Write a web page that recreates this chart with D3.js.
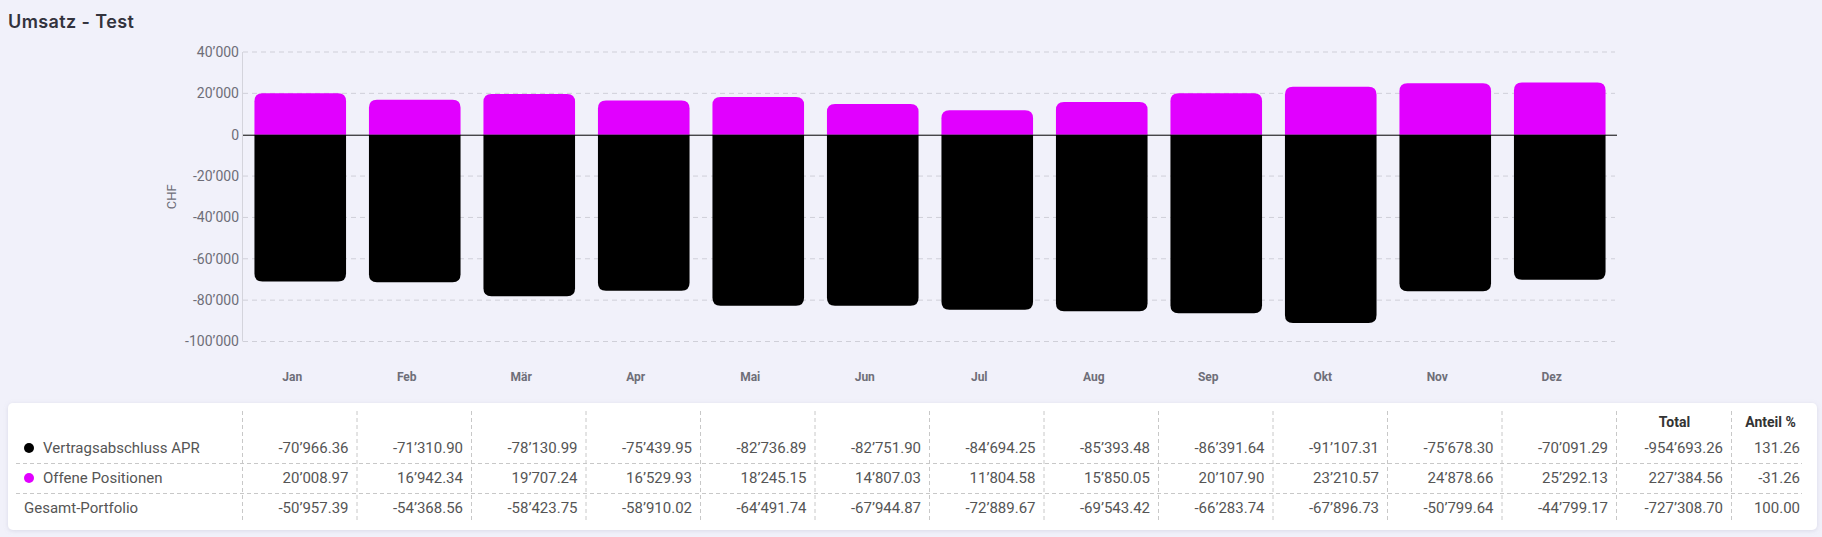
<!DOCTYPE html>
<html>
<head>
<meta charset="utf-8">
<script src="https://cdn.jsdelivr.net/npm/d3@7"></script>
<style>
  body { margin: 0; background: #f1f1fa; }
  svg { display: block; font-family: Roboto, "Noto Sans", sans-serif; }
</style>
</head>
<body>
<div id="chart"></div>
<script>
"use strict";

// data
const months = ["Jan", "Feb", "Mär", "Apr", "Mai", "Jun", "Jul", "Aug", "Sep", "Okt", "Nov", "Dez"];
const vertrag = [-70966.36, -71310.90, -78130.99, -75439.95, -82736.89, -82751.90,
                 -84694.25, -85393.48, -86391.64, -91107.31, -75678.30, -70091.29];
const offene = [20008.97, 16942.34, 19707.24, 16529.93, 18245.15, 14807.03,
                11804.58, 15850.05, 20107.90, 23210.57, 24878.66, 25292.13];
const gesamt = [-50957.39, -54368.56, -58423.75, -58910.02, -64491.74, -67944.87,
                -72889.67, -69543.42, -66283.74, -67896.73, -50799.64, -44799.17];
const totals = [-954693.26, 227384.56, -727308.70];
const anteil = [131.26, -31.26, 100.00];
const yTicks = [40000, 20000, 0, -20000, -40000, -60000, -80000, -100000];
const seriesNames = ["Vertragsabschluss APR", "Offene Positionen", "Gesamt-Portfolio"];
const seriesColors = ["#000000", "#e100ff", null];

const W = 1822, H = 537;

const loc = d3.formatLocale({ decimal: ".", thousands: "\u2019", grouping: [3], currency: ["", ""], minus: "-" });
const fmtTick = loc.format(",d");
const fmtVal = loc.format(",.2f");

const rows = [vertrag, offene, gesamt];

const svg = d3.select("#chart").append("svg")
  .attr("width", W)
  .attr("height", H);

const defs = svg.append("defs");
const shadow = defs.append("filter").attr("id", "shadow")
  .attr("x", "-2%").attr("y", "-10%").attr("width", "104%").attr("height", "130%");
shadow.append("feDropShadow")
  .attr("dx", 0).attr("dy", 1).attr("stdDeviation", 2)
  .attr("flood-color", "#9090b0").attr("flood-opacity", 0.25);

// title
svg.append("text")
  .attr("x", 8).attr("y", 28)
  .attr("font-family", "Inter, 'Open Sans', sans-serif")
  .attr("font-weight", 600)
  .attr("font-size", 18)
  .attr("letter-spacing", 0.4)
  .attr("fill", "#33333d")
  .text("Umsatz - Test");

const x = d3.scaleBand()
  .domain(months)
  .range([243, 1617])
  .paddingInner(0.2)
  .paddingOuter(0.1);

const y = d3.scaleLinear()
  .domain([-100000, 40000])
  .range([341.5, 52]);

// grid
svg.append("g")
  .selectAll("line")
  .data(yTicks.filter(d => d !== 0))
  .join("line")
    .attr("x1", 243).attr("x2", 1615)
    .attr("y1", d => y(d)).attr("y2", d => y(d))
    .attr("stroke", "#cfcfd8")
    .attr("stroke-dasharray", "5,4");

svg.append("line")
  .attr("x1", 242.5).attr("x2", 242.5)
  .attr("y1", y(40000)).attr("y2", y(-100000))
  .attr("stroke", "#d4d4dc");

// y tick labels
svg.append("g")
  .selectAll("text")
  .data(yTicks)
  .join("text")
    .attr("x", 239)
    .attr("y", d => y(d))
    .attr("dy", "0.35em")
    .attr("text-anchor", "end")
    .attr("font-size", 14)
    .attr("fill", "#6e6e78")
    .text(d => fmtTick(d));

svg.append("text")
  .attr("transform", `translate(171,${(y(40000) + y(-100000)) / 2}) rotate(-90)`)
  .attr("text-anchor", "middle")
  .attr("dy", "0.35em")
  .attr("font-size", 13)
  .attr("fill", "#6e6e78")
  .text("CHF");

// bar with rounded corners on the far end only
function barPath(x0, w, v) {
  const y0 = y(0), y1 = y(v);
  const r = Math.min(8, Math.abs(y1 - y0), w / 2);
  if (v >= 0) {
    return `M${x0},${y0}V${y1 + r}Q${x0},${y1} ${x0 + r},${y1}H${x0 + w - r}Q${x0 + w},${y1} ${x0 + w},${y1 + r}V${y0}Z`;
  }
  return `M${x0},${y0}V${y1 - r}Q${x0},${y1} ${x0 + r},${y1}H${x0 + w - r}Q${x0 + w},${y1} ${x0 + w},${y1 - r}V${y0}Z`;
}

svg.append("g")
  .selectAll("path")
  .data(months)
  .join("path")
    .attr("d", (m, i) => barPath(x(m), x.bandwidth(), vertrag[i]))
    .attr("fill", seriesColors[0]);

svg.append("g")
  .selectAll("path")
  .data(months)
  .join("path")
    .attr("d", (m, i) => barPath(x(m), x.bandwidth(), offene[i]))
    .attr("fill", seriesColors[1]);

// zero line
svg.append("line")
  .attr("x1", 243).attr("x2", 1617)
  .attr("y1", y(0) + 0.5).attr("y2", y(0) + 0.5)
  .attr("stroke", "#000");

// month labels
svg.append("g")
  .selectAll("text")
  .data(months)
  .join("text")
    .attr("x", d => x(d) + x.bandwidth() / 2 - 8)
    .attr("y", 377)
    .attr("dy", "0.35em")
    .attr("text-anchor", "middle")
    .attr("font-size", 12)
    .attr("font-weight", 700)
    .attr("fill", "#6e6e78")
    .text(d => d);

// table
const step = x.step();
const colLeft = i => 243 + i * step;     // month columns share the chart bands
const totalL = colLeft(12), anteilL = totalL + 115, tableR = 1809;

svg.append("rect")
  .attr("x", 8).attr("y", 403)
  .attr("width", 1809).attr("height", 127)
  .attr("rx", 5)
  .attr("fill", "#fff")
  .attr("filter", "url(#shadow)");

const tbl = svg.append("g");
const vlines = d3.range(13).map(colLeft).concat([anteilL]);
tbl.selectAll(".vl")
  .data(vlines)
  .join("line")
    .attr("x1", d => d - 0.5).attr("x2", d => d - 0.5)
    .attr("y1", 411).attr("y2", 523)
    .attr("stroke", "#c8c8c8")
    .attr("stroke-dasharray", "4,3");

tbl.selectAll(".hl")
  .data([463, 493])
  .join("line")
    .attr("x1", 16).attr("x2", 1802)
    .attr("y1", d => d + 0.5).attr("y2", d => d + 0.5)
    .attr("stroke", "#c8c8c8")
    .attr("stroke-dasharray", "4,3");

// header
tbl.append("text")
  .attr("x", (totalL + anteilL) / 2).attr("y", 422)
  .attr("dy", "0.35em").attr("text-anchor", "middle")
  .attr("font-size", 14).attr("font-weight", 700).attr("fill", "#333")
  .text("Total");
tbl.append("text")
  .attr("x", (anteilL + tableR) / 2).attr("y", 422)
  .attr("dy", "0.35em").attr("text-anchor", "middle")
  .attr("font-size", 14).attr("font-weight", 700).attr("fill", "#333")
  .text("Anteil %");

const rowY = [448, 478, 508];
rows.forEach((r, ri) => {
  const ry = rowY[ri];
  const g = tbl.append("g");
  let tx = 24;
  if (seriesColors[ri]) {
    g.append("circle")
      .attr("cx", 29).attr("cy", ry)
      .attr("r", 5)
      .attr("fill", seriesColors[ri]);
    tx = 43;
  }
  g.append("text")
    .attr("x", tx).attr("y", ry).attr("dy", "0.35em")
    .attr("font-size", 15).attr("fill", "#555")
    .text(seriesNames[ri]);

  g.selectAll(".v")
    .data(r)
    .join("text")
      .attr("x", (d, i) => colLeft(i + 1) - 9)
      .attr("y", ry).attr("dy", "0.35em")
      .attr("text-anchor", "end")
      .attr("font-size", 15).attr("fill", "#555")
      .text(d => fmtVal(d));

  g.append("text")
    .attr("x", anteilL - 9).attr("y", ry).attr("dy", "0.35em")
    .attr("text-anchor", "end")
    .attr("font-size", 15).attr("fill", "#555")
    .text(fmtVal(totals[ri]));

  g.append("text")
    .attr("x", tableR - 9).attr("y", ry).attr("dy", "0.35em")
    .attr("text-anchor", "end")
    .attr("font-size", 15).attr("fill", "#555")
    .text(fmtVal(anteil[ri]));
});
</script>
</body>
</html>
